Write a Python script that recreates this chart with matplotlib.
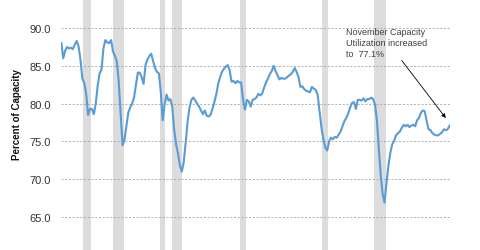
import pandas as pd
import matplotlib
matplotlib.use("Agg")
import matplotlib.pyplot as plt

# quarterly capacity utilization, %, 1967Q1 .. 2017Q4
start_q = "1967Q1"
end_q = "2017Q4"
cap_util = [
    88.0, 86.0, 87.0, 87.5,   # 1967
    87.3, 87.4, 87.2, 87.8,   # 1968
    88.3, 87.6, 85.8, 83.3,   # 1969
    82.7, 81.3, 78.5, 79.3,   # 1970
    79.3, 78.6, 80.0, 82.4,   # 1971
    84.0, 84.5, 87.3, 88.4,   # 1972
    88.1, 88.0, 88.4, 86.9,   # 1973
    86.3, 85.6, 83.0, 78.6,   # 1974
    74.5, 75.2, 77.0, 78.8,   # 1975
    79.5, 80.0, 80.8, 82.5,   # 1976
    84.1, 84.1, 83.5, 82.6,   # 1977
    85.1, 85.8, 86.3, 86.6,   # 1978
    85.6, 84.7, 84.2, 84.0,   # 1979
    81.5, 77.8, 79.9, 81.2,   # 1980
    80.4, 80.6, 79.6, 76.5,   # 1981
    74.6, 73.4, 71.8, 71.0,   # 1982
    72.3, 74.8, 77.6, 79.5,   # 1983
    80.5, 80.8, 80.4, 80.0,   # 1984
    79.6, 79.1, 78.6, 79.1,   # 1985
    78.4, 78.3, 78.5, 79.3,   # 1986
    80.2, 81.2, 82.6, 83.5,   # 1987
    84.2, 84.6, 84.9, 85.1,   # 1988
    84.4, 82.9, 83.0, 82.7,   # 1989
    83.0, 82.8, 82.8, 80.5,   # 1990
    79.2, 80.5, 80.3, 79.6,   # 1991
    80.5, 80.6, 80.8, 81.3,   # 1992
    81.1, 81.3, 82.1, 82.8,   # 1993
    83.3, 83.9, 84.3, 85.0,   # 1994
    84.3, 83.8, 83.2, 83.4,   # 1995
    83.3, 83.3, 83.5, 83.7,   # 1996
    83.9, 84.2, 84.7, 84.2,   # 1997
    83.5, 82.2, 82.3, 81.9,   # 1998
    81.7, 81.6, 81.5, 82.2,   # 1999
    82.0, 81.8, 81.2, 79.0,   # 2000
    76.8, 75.3, 74.2, 73.8,   # 2001
    75.0, 75.5, 75.3, 75.6,   # 2002
    75.5, 75.9, 76.3, 77.0,   # 2003
    77.7, 78.1, 78.7, 79.5,   # 2004
    80.1, 80.2, 79.3, 80.5,   # 2005
    80.5, 80.4, 80.7, 80.3,   # 2006
    80.6, 80.6, 80.8, 80.6,   # 2007
    79.9, 77.8, 74.0, 70.5,   # 2008
    68.0, 66.9, 69.5, 71.8,   # 2009
    73.5, 74.6, 75.1, 75.8,   # 2010
    76.1, 76.3, 76.8, 77.2,   # 2011
    77.0, 77.2, 76.9, 77.1,   # 2012
    77.2, 77.0, 77.8, 78.1,   # 2013
    78.8, 79.1, 79.0, 77.7,   # 2014
    76.6, 76.5, 76.1, 75.9,   # 2015
    75.8, 75.8, 76.0, 76.2,   # 2016
    76.6, 76.5, 76.6, 77.1,   # 2017
]

recessions = [
    ("1969-12-01", "1970-11-30"),
    ("1973-11-01", "1975-03-31"),
    ("1980-01-01", "1980-07-31"),
    ("1981-07-01", "1982-11-30"),
    ("1990-07-01", "1991-03-31"),
    ("2001-03-01", "2001-11-30"),
    ("2007-12-01", "2009-06-30"),
]

y_ticks = [65, 70, 75, 80, 85, 90]

note = "November Capacity\nUtilization increased\nto  77.1%"

# mid-quarter dates
dates = pd.period_range(start_q, end_q, freq="Q").to_timestamp(how="start") + pd.DateOffset(months=1)
df = pd.DataFrame({"date": dates, "tcu": cap_util})

fig = plt.figure(figsize=(4.8, 2.51), dpi=100)
ax = fig.add_axes([0.1265, -0.1096, 0.811, 1.1446])

for s, e in recessions:
    ax.axvspan(pd.Timestamp(s), pd.Timestamp(e), color="#dcdcdc", lw=0, zorder=0)

for t in y_ticks:
    ax.axhline(t, color="#a6a6a6", lw=0.6, ls=(0, (2.5, 2)), zorder=1)

ax.plot(df["date"], df["tcu"], color="#5b9bd5", lw=1.5, zorder=3)

ax.set_xlim(pd.Timestamp("1967-01-01"), pd.Timestamp("2017-11-20"))
ax.set_ylim(57, 95)
ax.set_yticks(y_ticks)
ax.set_yticklabels([f"{t:.1f}" for t in y_ticks], fontsize=8, color="#333333",
                   family="Liberation Sans")
ax.tick_params(axis="y", length=0, pad=7)
ax.set_xticks([])
for sp in ax.spines.values():
    sp.set_visible(False)

fig.text(17 / 480, 1 - 115 / 251, "Percent of Capacity", rotation=90,
         ha="center", va="center", fontsize=7, fontweight="bold", color="#111111",
         family="Liberation Sans")

ax.text(pd.Timestamp("2004-05-01"), 90.2, note, ha="left", va="top",
        fontsize=6.5, color="#404040", family="Liberation Sans", linespacing=1.35)
ax.annotate("", xy=(pd.Timestamp("2017-05-01"), 78.1),
            xytext=(pd.Timestamp("2011-08-01"), 85.7),
            arrowprops=dict(arrowstyle="-|>", color="black", lw=0.6,
                            mutation_scale=6, shrinkA=0, shrinkB=0))

fig.savefig("out.png", dpi=100)
